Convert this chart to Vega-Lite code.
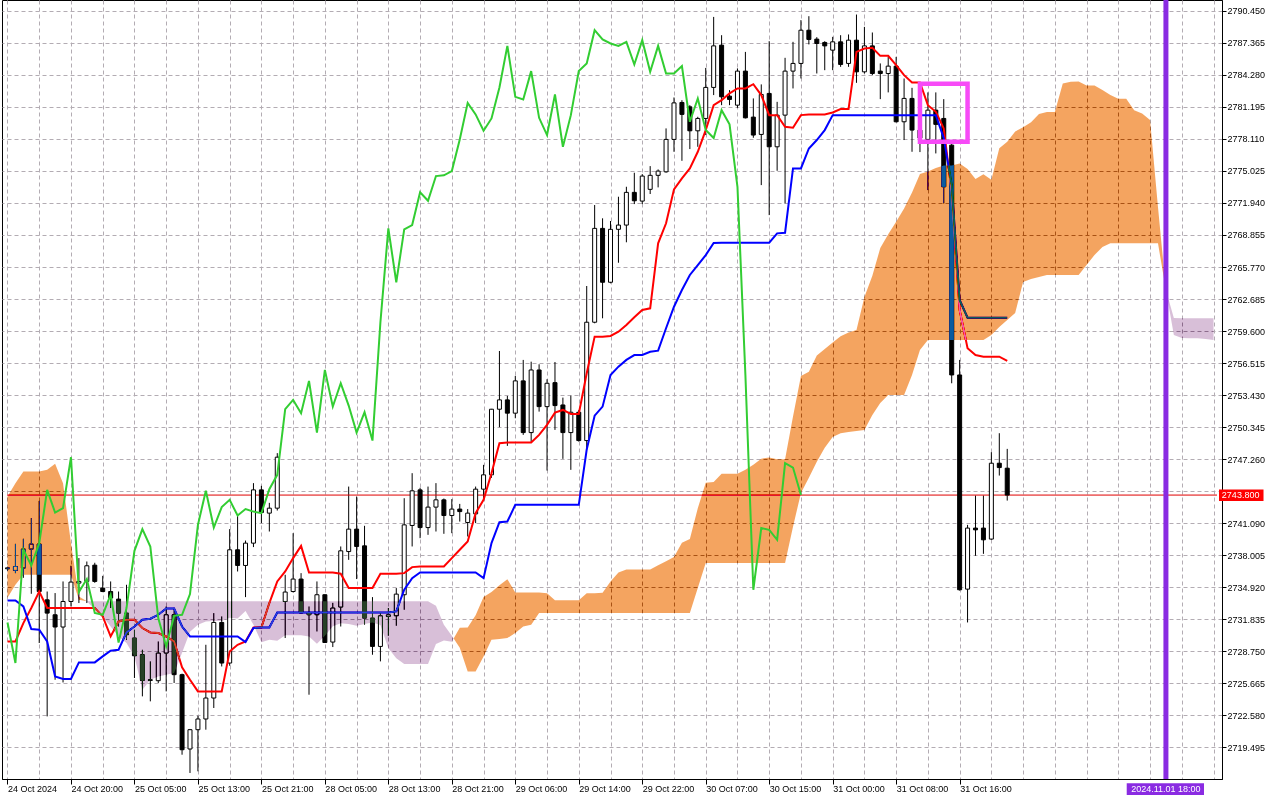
{
  "$schema": "https://vega.github.io/schema/vega-lite/v6.json",
  "width": 1220,
  "height": 779,
  "autosize": {"type": "none"},
  "padding": {"left": 2, "top": 0, "right": 58, "bottom": 21},
  "background": "white",
  "config": {
    "view": {"stroke": "black", "strokeWidth": 1},
    "axis": {"labelFont": "Liberation Sans", "labelFontSize": 9, "labelColor": "black", "domainColor": "black", "tickColor": "black", "gridColor": "#b3acb3", "gridDash": [4, 3], "gridWidth": 1, "gridOpacity": 1, "labelOverlap": false, "labelFlush": false, "labelBound": false, "title": null}
  },
  "datasets": {
    "candles": [
      {"i":0,"o":2736.70,"h":2736.89,"l":2736.51,"c":2736.79},
      {"i":1,"o":2736.54,"h":2739.10,"l":2736.28,"c":2736.92},
      {"i":2,"o":2736.77,"h":2739.59,"l":2735.83,"c":2738.60},
      {"i":3,"o":2738.60,"h":2741.58,"l":2734.29,"c":2739.08},
      {"i":4,"o":2739.08,"h":2743.24,"l":2729.55,"c":2734.51},
      {"i":5,"o":2733.71,"h":2734.51,"l":2722.48,"c":2732.43},
      {"i":6,"o":2732.27,"h":2734.36,"l":2726.01,"c":2731.09},
      {"i":7,"o":2731.09,"h":2735.48,"l":2725.75,"c":2733.55},
      {"i":8,"o":2733.55,"h":2736.99,"l":2733.07,"c":2735.42},
      {"i":9,"o":2735.32,"h":2737.73,"l":2733.40,"c":2735.48},
      {"i":10,"o":2735.48,"h":2737.40,"l":2733.40,"c":2736.99},
      {"i":11,"o":2737.05,"h":2737.28,"l":2735.35,"c":2735.48},
      {"i":12,"o":2734.84,"h":2736.02,"l":2734.45,"c":2734.51},
      {"i":13,"o":2734.51,"h":2735.48,"l":2732.92,"c":2733.88},
      {"i":14,"o":2733.78,"h":2734.51,"l":2731.14,"c":2732.43},
      {"i":15,"o":2732.43,"h":2735.16,"l":2729.86,"c":2730.35},
      {"i":16,"o":2730.03,"h":2730.83,"l":2726.18,"c":2728.32},
      {"i":17,"o":2728.42,"h":2728.90,"l":2724.41,"c":2725.95},
      {"i":18,"o":2726.01,"h":2727.78,"l":2723.93,"c":2725.95},
      {"i":19,"o":2725.92,"h":2729.70,"l":2725.70,"c":2728.58},
      {"i":20,"o":2728.58,"h":2733.07,"l":2724.89,"c":2732.27},
      {"i":21,"o":2732.27,"h":2732.94,"l":2725.70,"c":2726.50},
      {"i":22,"o":2726.50,"h":2726.60,"l":2718.79,"c":2719.27},
      {"i":23,"o":2719.34,"h":2721.27,"l":2717.03,"c":2721.20},
      {"i":24,"o":2721.20,"h":2722.55,"l":2717.19,"c":2722.23},
      {"i":25,"o":2722.23,"h":2729.38,"l":2721.20,"c":2724.25},
      {"i":26,"o":2724.25,"h":2732.43,"l":2723.29,"c":2731.53},
      {"i":27,"o":2731.53,"h":2732.11,"l":2727.29,"c":2727.62},
      {"i":28,"o":2727.62,"h":2740.52,"l":2727.36,"c":2738.53},
      {"i":29,"o":2738.53,"h":2741.90,"l":2736.44,"c":2737.02},
      {"i":30,"o":2737.02,"h":2739.42,"l":2733.97,"c":2739.17},
      {"i":31,"o":2739.17,"h":2744.95,"l":2738.79,"c":2744.30},
      {"i":32,"o":2744.30,"h":2744.69,"l":2741.10,"c":2742.12},
      {"i":33,"o":2742.06,"h":2743.05,"l":2740.29,"c":2742.54},
      {"i":34,"o":2742.54,"h":2747.84,"l":2742.31,"c":2747.45},
      {"i":35,"o":2733.55,"h":2736.12,"l":2730.03,"c":2734.46},
      {"i":36,"o":2734.51,"h":2740.13,"l":2734.42,"c":2735.71},
      {"i":37,"o":2735.71,"h":2736.28,"l":2732.40,"c":2732.45},
      {"i":38,"o":2732.49,"h":2733.07,"l":2724.57,"c":2732.27},
      {"i":39,"o":2732.27,"h":2735.48,"l":2730.66,"c":2734.20},
      {"i":40,"o":2734.20,"h":2734.22,"l":2729.55,"c":2729.60},
      {"i":41,"o":2729.64,"h":2733.42,"l":2729.16,"c":2732.92},
      {"i":42,"o":2733.01,"h":2738.85,"l":2731.14,"c":2738.43},
      {"i":43,"o":2738.36,"h":2744.62,"l":2737.56,"c":2740.52},
      {"i":44,"o":2740.52,"h":2743.66,"l":2735.71,"c":2738.85},
      {"i":45,"o":2738.91,"h":2740.84,"l":2731.31,"c":2731.95},
      {"i":46,"o":2731.95,"h":2733.97,"l":2728.42,"c":2729.22},
      {"i":47,"o":2729.22,"h":2732.43,"l":2727.78,"c":2732.17},
      {"i":48,"o":2732.11,"h":2732.92,"l":2730.25,"c":2732.27},
      {"i":49,"o":2732.17,"h":2734.84,"l":2731.21,"c":2734.26},
      {"i":50,"o":2734.20,"h":2743.50,"l":2732.75,"c":2740.93},
      {"i":51,"o":2740.87,"h":2745.91,"l":2738.85,"c":2744.21},
      {"i":52,"o":2744.30,"h":2744.50,"l":2739.65,"c":2740.67},
      {"i":53,"o":2740.67,"h":2744.62,"l":2739.97,"c":2742.64},
      {"i":54,"o":2742.64,"h":2744.95,"l":2740.29,"c":2743.34},
      {"i":55,"o":2743.34,"h":2743.47,"l":2740.07,"c":2741.83},
      {"i":56,"o":2741.83,"h":2743.41,"l":2740.13,"c":2742.45},
      {"i":57,"o":2742.45,"h":2742.95,"l":2741.25,"c":2742.21},
      {"i":58,"o":2741.16,"h":2742.45,"l":2739.81,"c":2742.06},
      {"i":59,"o":2741.99,"h":2744.62,"l":2741.10,"c":2744.37},
      {"i":60,"o":2744.37,"h":2746.71,"l":2743.34,"c":2745.75},
      {"i":61,"o":2745.75,"h":2752.10,"l":2745.46,"c":2752.07},
      {"i":62,"o":2752.07,"h":2757.68,"l":2750.34,"c":2752.97},
      {"i":63,"o":2752.97,"h":2753.35,"l":2748.54,"c":2751.69},
      {"i":64,"o":2751.69,"h":2755.28,"l":2751.20,"c":2754.80},
      {"i":65,"o":2754.80,"h":2756.82,"l":2749.60,"c":2749.82},
      {"i":66,"o":2749.82,"h":2756.65,"l":2748.89,"c":2755.85},
      {"i":67,"o":2755.85,"h":2756.40,"l":2751.84,"c":2752.32},
      {"i":68,"o":2752.32,"h":2754.96,"l":2746.16,"c":2754.57},
      {"i":69,"o":2754.63,"h":2756.62,"l":2750.08,"c":2752.42},
      {"i":70,"o":2752.48,"h":2753.19,"l":2747.29,"c":2749.82},
      {"i":71,"o":2749.82,"h":2753.38,"l":2746.23,"c":2751.78},
      {"i":72,"o":2751.78,"h":2752.00,"l":2748.95,"c":2749.05},
      {"i":73,"o":2749.05,"h":2763.94,"l":2748.15,"c":2760.45},
      {"i":74,"o":2760.45,"h":2771.74,"l":2760.35,"c":2769.49},
      {"i":75,"o":2769.49,"h":2770.46,"l":2760.83,"c":2764.30},
      {"i":76,"o":2764.30,"h":2770.20,"l":2764.20,"c":2769.40},
      {"i":77,"o":2769.40,"h":2772.54,"l":2766.18,"c":2769.81},
      {"i":78,"o":2769.81,"h":2773.50,"l":2768.15,"c":2772.96},
      {"i":79,"o":2772.96,"h":2774.85,"l":2771.83,"c":2772.15},
      {"i":80,"o":2772.12,"h":2774.72,"l":2771.83,"c":2774.53},
      {"i":81,"o":2773.25,"h":2775.49,"l":2772.80,"c":2774.60},
      {"i":82,"o":2774.60,"h":2775.17,"l":2773.44,"c":2775.01},
      {"i":83,"o":2774.94,"h":2779.12,"l":2774.85,"c":2778.06},
      {"i":84,"o":2778.06,"h":2782.10,"l":2776.87,"c":2781.58},
      {"i":85,"o":2781.62,"h":2781.84,"l":2776.00,"c":2780.47},
      {"i":86,"o":2781.20,"h":2781.36,"l":2777.13,"c":2778.89},
      {"i":87,"o":2778.89,"h":2780.24,"l":2777.35,"c":2780.08},
      {"i":88,"o":2780.08,"h":2784.95,"l":2778.48,"c":2783.07},
      {"i":89,"o":2783.07,"h":2789.86,"l":2782.33,"c":2787.07},
      {"i":90,"o":2787.14,"h":2788.10,"l":2781.36,"c":2782.16},
      {"i":91,"o":2782.23,"h":2782.81,"l":2781.36,"c":2781.91},
      {"i":92,"o":2781.36,"h":2784.90,"l":2781.10,"c":2784.64},
      {"i":93,"o":2784.64,"h":2786.49,"l":2780.08,"c":2780.14},
      {"i":94,"o":2780.21,"h":2782.01,"l":2778.22,"c":2778.48},
      {"i":95,"o":2778.54,"h":2783.36,"l":2773.66,"c":2782.39},
      {"i":96,"o":2782.49,"h":2787.52,"l":2770.77,"c":2777.35},
      {"i":97,"o":2777.35,"h":2781.68,"l":2775.04,"c":2780.40},
      {"i":98,"o":2780.40,"h":2785.92,"l":2771.90,"c":2784.64},
      {"i":99,"o":2784.64,"h":2787.46,"l":2782.97,"c":2785.38},
      {"i":100,"o":2785.38,"h":2789.55,"l":2783.93,"c":2788.58},
      {"i":101,"o":2788.58,"h":2789.93,"l":2787.21,"c":2787.69},
      {"i":102,"o":2787.72,"h":2787.91,"l":2784.41,"c":2787.30},
      {"i":103,"o":2787.40,"h":2787.52,"l":2784.73,"c":2787.07},
      {"i":104,"o":2786.66,"h":2787.94,"l":2784.73,"c":2787.46},
      {"i":105,"o":2787.46,"h":2788.10,"l":2785.05,"c":2785.28},
      {"i":106,"o":2785.38,"h":2788.17,"l":2785.05,"c":2787.62},
      {"i":107,"o":2787.62,"h":2790.09,"l":2783.51,"c":2784.57},
      {"i":108,"o":2784.57,"h":2788.90,"l":2784.41,"c":2787.07},
      {"i":109,"o":2787.07,"h":2788.36,"l":2784.25,"c":2784.41},
      {"i":110,"o":2784.64,"h":2785.38,"l":2781.94,"c":2784.41},
      {"i":111,"o":2784.41,"h":2786.01,"l":2782.59,"c":2785.12},
      {"i":112,"o":2785.12,"h":2786.01,"l":2779.70,"c":2779.76},
      {"i":113,"o":2779.76,"h":2783.93,"l":2778.00,"c":2782.01},
      {"i":114,"o":2782.01,"h":2783.03,"l":2776.87,"c":2778.96},
      {"i":115,"o":2778.96,"h":2780.40,"l":2776.84,"c":2778.19},
      {"i":116,"o":2778.06,"h":2782.59,"l":2773.18,"c":2780.88},
      {"i":117,"o":2780.88,"h":2782.59,"l":2776.71,"c":2779.51},
      {"i":118,"o":2780.08,"h":2781.94,"l":2771.90,"c":2773.50},
      {"i":119,"o":2777.51,"h":2777.83,"l":2754.57,"c":2755.37},
      {"i":120,"o":2755.37,"h":2756.82,"l":2734.60,"c":2734.68},
      {"i":121,"o":2734.74,"h":2740.93,"l":2731.53,"c":2740.62},
      {"i":122,"o":2740.62,"h":2743.76,"l":2737.95,"c":2740.45},
      {"i":123,"o":2740.62,"h":2743.76,"l":2738.14,"c":2739.49},
      {"i":124,"o":2739.56,"h":2747.93,"l":2739.49,"c":2746.87},
      {"i":125,"o":2746.87,"h":2749.76,"l":2745.68,"c":2746.45},
      {"i":126,"o":2746.39,"h":2748.25,"l":2743.27,"c":2743.80}
    ],
    "lines": [
      {"i":0,"t":2729.70,"k":2733.65},{"i":1,"t":2729.70,"k":2733.65},{"i":2,"t":2731.47,"k":2733.07},{"i":3,"t":2732.92,"k":2730.89},
      {"i":4,"t":2734.51,"k":2730.83},{"i":5,"t":2732.92,"k":2729.70},{"i":6,"t":2732.92,"k":2726.33},{"i":7,"t":2732.92,"k":2726.08},
      {"i":8,"t":2732.92,"k":2726.08},{"i":9,"t":2732.92,"k":2727.68},{"i":10,"t":2732.92,"k":2727.68},{"i":11,"t":2732.92,"k":2727.68},
      {"i":12,"t":2732.11,"k":2728.26},{"i":13,"t":2730.18,"k":2728.80},{"i":14,"t":2731.63,"k":2728.90},{"i":15,"t":2731.79,"k":2730.57},
      {"i":16,"t":2731.79,"k":2731.14},{"i":17,"t":2730.99,"k":2731.79},{"i":18,"t":2730.57,"k":2731.89},{"i":19,"t":2730.51,"k":2732.27},
      {"i":20,"t":2730.18,"k":2732.88},{"i":21,"t":2729.70,"k":2732.88},{"i":22,"t":2727.21,"k":2731.14},{"i":23,"t":2726.01,"k":2730.18},
      {"i":24,"t":2724.89,"k":2730.18},{"i":25,"t":2724.89,"k":2730.18},{"i":26,"t":2724.89,"k":2730.18},{"i":27,"t":2724.89,"k":2730.18},
      {"i":28,"t":2728.74,"k":2730.18},{"i":29,"t":2729.38,"k":2730.18},{"i":30,"t":2729.70,"k":2729.64},{"i":31,"t":2731.05,"k":2730.99},
      {"i":32,"t":2731.05,"k":2731.05},{"i":33,"t":2733.40,"k":2731.05},{"i":34,"t":2735.48,"k":2732.49},{"i":35,"t":2736.44,"k":2732.49},
      {"i":36,"t":2737.73,"k":2732.49},{"i":37,"t":2738.91,"k":2732.49},{"i":38,"t":2736.34,"k":2732.49},{"i":39,"t":2736.34,"k":2732.49},
      {"i":40,"t":2736.34,"k":2732.49},{"i":41,"t":2736.34,"k":2732.49},{"i":42,"t":2736.22,"k":2732.49},{"i":43,"t":2734.84,"k":2732.49},
      {"i":44,"t":2734.84,"k":2732.49},{"i":45,"t":2734.84,"k":2732.49},{"i":46,"t":2734.84,"k":2732.49},{"i":47,"t":2736.22,"k":2732.49},
      {"i":48,"t":2736.22,"k":2732.49},{"i":49,"t":2736.22,"k":2732.59},{"i":50,"t":2736.28,"k":2734.68},{"i":51,"t":2736.86,"k":2735.80},
      {"i":52,"t":2736.92,"k":2736.34},{"i":53,"t":2736.92,"k":2736.34},{"i":54,"t":2736.92,"k":2736.34},{"i":55,"t":2736.92,"k":2736.34},
      {"i":56,"t":2737.73,"k":2736.34},{"i":57,"t":2738.53,"k":2736.34},{"i":58,"t":2739.33,"k":2736.34},{"i":59,"t":2742.06,"k":2736.34},
      {"i":60,"t":2743.34,"k":2735.80},{"i":61,"t":2745.91,"k":2739.17},{"i":62,"t":2748.80,"k":2741.19},{"i":63,"t":2748.86,"k":2741.25},
      {"i":64,"t":2748.86,"k":2742.86},{"i":65,"t":2748.86,"k":2742.86},{"i":66,"t":2748.86,"k":2742.86},{"i":67,"t":2749.60,"k":2742.86},
      {"i":68,"t":2750.56,"k":2742.86},{"i":69,"t":2751.74,"k":2742.86},{"i":70,"t":2752.00,"k":2742.86},{"i":71,"t":2751.62,"k":2742.86},
      {"i":72,"t":2751.62,"k":2742.86},{"i":73,"t":2755.54,"k":2748.19},{"i":74,"t":2759.06,"k":2751.45},{"i":75,"t":2759.06,"k":2752.32},
      {"i":76,"t":2759.13,"k":2755.37},{"i":77,"t":2759.54,"k":2756.17},{"i":78,"t":2760.18,"k":2756.82},{"i":79,"t":2760.93,"k":2757.29},
      {"i":80,"t":2761.63,"k":2757.29},{"i":81,"t":2761.79,"k":2757.61},{"i":82,"t":2768.05,"k":2757.71},{"i":83,"t":2769.98,"k":2759.87},
      {"i":84,"t":2773.25,"k":2761.94},{"i":85,"t":2774.31,"k":2763.55},{"i":86,"t":2775.27,"k":2765.00},{"i":87,"t":2776.87,"k":2765.96},
      {"i":88,"t":2778.96,"k":2766.92},{"i":89,"t":2781.36,"k":2768.08},{"i":90,"t":2781.84,"k":2768.11},{"i":91,"t":2782.49,"k":2768.11},
      {"i":92,"t":2782.97,"k":2768.11},{"i":93,"t":2782.97,"k":2768.11},{"i":94,"t":2783.38,"k":2768.11},{"i":95,"t":2782.33,"k":2768.11},
      {"i":96,"t":2780.40,"k":2768.11},{"i":97,"t":2780.40,"k":2769.01},{"i":98,"t":2779.27,"k":2769.07},{"i":99,"t":2779.18,"k":2775.27},
      {"i":100,"t":2780.40,"k":2775.27},{"i":101,"t":2780.47,"k":2777.19},{"i":102,"t":2780.47,"k":2778.00},{"i":103,"t":2780.47,"k":2778.96},
      {"i":104,"t":2780.66,"k":2780.40},{"i":105,"t":2780.98,"k":2780.40},{"i":106,"t":2780.98,"k":2780.40},{"i":107,"t":2786.49,"k":2780.40},
      {"i":108,"t":2786.82,"k":2780.40},{"i":109,"t":2786.88,"k":2780.40},{"i":110,"t":2786.11,"k":2780.40},{"i":111,"t":2786.11,"k":2780.40},
      {"i":112,"t":2785.21,"k":2780.40},{"i":113,"t":2784.25,"k":2780.40},{"i":114,"t":2783.55,"k":2780.40},{"i":115,"t":2783.55,"k":2780.40},
      {"i":116,"t":2781.36,"k":2780.40},{"i":117,"t":2780.72,"k":2780.40},{"i":118,"t":2779.12,"k":2778.19},{"i":119,"t":2773.02,"k":2773.66},
      {"i":120,"t":2761.63,"k":2762.59},{"i":121,"t":2757.94,"k":2760.89},{"i":122,"t":2757.29,"k":2760.89},{"i":123,"t":2757.13,"k":2760.89},
      {"i":124,"t":2757.13,"k":2760.89},{"i":125,"t":2757.13,"k":2760.89},{"i":126,"t":2756.72,"k":2760.89}
    ],
    "chikou": [
      {"i":0,"v":2731.53},{"i":1,"v":2727.62},{"i":2,"v":2738.53},{"i":3,"v":2737.02},{"i":4,"v":2739.17},{"i":5,"v":2744.30},
      {"i":6,"v":2742.12},{"i":7,"v":2742.54},{"i":8,"v":2747.45},{"i":9,"v":2734.46},{"i":10,"v":2735.71},{"i":11,"v":2732.45},
      {"i":12,"v":2732.27},{"i":13,"v":2734.20},{"i":14,"v":2729.60},{"i":15,"v":2732.92},{"i":16,"v":2738.43},{"i":17,"v":2740.52},
      {"i":18,"v":2738.85},{"i":19,"v":2731.95},{"i":20,"v":2729.22},{"i":21,"v":2732.17},{"i":22,"v":2732.27},{"i":23,"v":2734.26},
      {"i":24,"v":2740.93},{"i":25,"v":2744.21},{"i":26,"v":2740.67},{"i":27,"v":2742.64},{"i":28,"v":2743.34},{"i":29,"v":2741.83},
      {"i":30,"v":2742.45},{"i":31,"v":2742.21},{"i":32,"v":2742.06},{"i":33,"v":2744.37},{"i":34,"v":2745.75},{"i":35,"v":2752.07},
      {"i":36,"v":2752.97},{"i":37,"v":2751.69},{"i":38,"v":2754.80},{"i":39,"v":2749.82},{"i":40,"v":2755.85},{"i":41,"v":2752.32},
      {"i":42,"v":2754.57},{"i":43,"v":2752.42},{"i":44,"v":2749.82},{"i":45,"v":2751.78},{"i":46,"v":2749.05},{"i":47,"v":2760.45},
      {"i":48,"v":2769.49},{"i":49,"v":2764.30},{"i":50,"v":2769.40},{"i":51,"v":2769.81},{"i":52,"v":2772.96},{"i":53,"v":2772.15},
      {"i":54,"v":2774.53},{"i":55,"v":2774.60},{"i":56,"v":2775.01},{"i":57,"v":2778.06},{"i":58,"v":2781.58},{"i":59,"v":2780.47},
      {"i":60,"v":2778.89},{"i":61,"v":2780.08},{"i":62,"v":2783.07},{"i":63,"v":2787.07},{"i":64,"v":2782.16},{"i":65,"v":2781.91},
      {"i":66,"v":2784.64},{"i":67,"v":2780.14},{"i":68,"v":2778.48},{"i":69,"v":2782.39},{"i":70,"v":2777.35},{"i":71,"v":2780.40},
      {"i":72,"v":2784.64},{"i":73,"v":2785.38},{"i":74,"v":2788.58},{"i":75,"v":2787.69},{"i":76,"v":2787.30},{"i":77,"v":2787.07},
      {"i":78,"v":2787.46},{"i":79,"v":2785.28},{"i":80,"v":2787.62},{"i":81,"v":2784.57},{"i":82,"v":2787.07},{"i":83,"v":2784.41},
      {"i":84,"v":2784.41},{"i":85,"v":2785.12},{"i":86,"v":2779.76},{"i":87,"v":2782.01},{"i":88,"v":2778.96},{"i":89,"v":2778.19},
      {"i":90,"v":2780.88},{"i":91,"v":2779.51},{"i":92,"v":2773.50},{"i":93,"v":2755.37},{"i":94,"v":2734.68},{"i":95,"v":2740.62},
      {"i":96,"v":2740.45},{"i":97,"v":2739.49},{"i":98,"v":2746.87},{"i":99,"v":2746.45},{"i":100,"v":2743.80}
    ],
    "cloud": [
      {"i":0,"seg":"o1","kind":"up","a":2743.66,"b":2733.91},{"i":1,"seg":"o1","kind":"up","a":2744.95,"b":2735.16},
      {"i":2,"seg":"o1","kind":"up","a":2746.07,"b":2736.12},{"i":3,"seg":"o1","kind":"up","a":2746.07,"b":2736.12},
      {"i":4,"seg":"o1","kind":"up","a":2746.07,"b":2736.12},{"i":5,"seg":"o1","kind":"up","a":2746.23,"b":2736.12},
      {"i":6,"seg":"o1","kind":"up","a":2746.81,"b":2736.12},{"i":7,"seg":"o1","kind":"up","a":2744.95,"b":2736.12},
      {"i":8,"seg":"o1","kind":"up","a":2739.17,"b":2736.12},{"i":9,"seg":"o1","kind":"up","a":2734.03,"b":2733.71},
      {"i":10,"seg":"o1","kind":"up","a":2733.57,"b":2733.57},
      {"i":10,"seg":"l1","kind":"down","a":2733.57,"b":2733.57},{"i":11,"seg":"l1","kind":"down","a":2732.75,"b":2733.57},
      {"i":12,"seg":"l1","kind":"down","a":2732.11,"b":2733.57},{"i":13,"seg":"l1","kind":"down","a":2731.14,"b":2733.57},
      {"i":14,"seg":"l1","kind":"down","a":2730.18,"b":2733.57},{"i":15,"seg":"l1","kind":"down","a":2729.55,"b":2733.57},
      {"i":16,"seg":"l1","kind":"down","a":2728.26,"b":2733.57},{"i":17,"seg":"l1","kind":"down","a":2725.05,"b":2733.57},
      {"i":18,"seg":"l1","kind":"down","a":2726.01,"b":2733.57},{"i":19,"seg":"l1","kind":"down","a":2726.33,"b":2733.57},
      {"i":20,"seg":"l1","kind":"down","a":2726.50,"b":2733.57},{"i":21,"seg":"l1","kind":"down","a":2726.66,"b":2733.57},
      {"i":22,"seg":"l1","kind":"down","a":2728.61,"b":2733.57},{"i":23,"seg":"l1","kind":"down","a":2730.63,"b":2733.57},
      {"i":24,"seg":"l1","kind":"down","a":2731.31,"b":2733.57},{"i":25,"seg":"l1","kind":"down","a":2731.63,"b":2733.57},
      {"i":26,"seg":"l1","kind":"down","a":2731.68,"b":2733.57},{"i":27,"seg":"l1","kind":"down","a":2731.68,"b":2733.57},
      {"i":28,"seg":"l1","kind":"down","a":2731.98,"b":2733.57},{"i":29,"seg":"l1","kind":"down","a":2731.90,"b":2733.57},
      {"i":30,"seg":"l1","kind":"down","a":2732.63,"b":2733.57},{"i":31,"seg":"l1","kind":"down","a":2731.31,"b":2733.57},
      {"i":32,"seg":"l1","kind":"down","a":2729.62,"b":2733.57},{"i":33,"seg":"l1","kind":"down","a":2729.86,"b":2733.57},
      {"i":34,"seg":"l1","kind":"down","a":2729.77,"b":2733.57},{"i":35,"seg":"l1","kind":"down","a":2730.30,"b":2733.57},
      {"i":36,"seg":"l1","kind":"down","a":2730.30,"b":2733.57},{"i":37,"seg":"l1","kind":"down","a":2730.30,"b":2733.57},
      {"i":38,"seg":"l1","kind":"down","a":2730.18,"b":2733.57},{"i":39,"seg":"l1","kind":"down","a":2729.49,"b":2733.57},
      {"i":40,"seg":"l1","kind":"down","a":2730.26,"b":2733.57},{"i":41,"seg":"l1","kind":"down","a":2731.17,"b":2733.57},
      {"i":42,"seg":"l1","kind":"down","a":2731.46,"b":2733.57},{"i":43,"seg":"l1","kind":"down","a":2731.38,"b":2733.57},
      {"i":44,"seg":"l1","kind":"down","a":2731.22,"b":2733.57},{"i":45,"seg":"l1","kind":"down","a":2731.38,"b":2733.57},
      {"i":46,"seg":"l1","kind":"down","a":2731.53,"b":2733.57},{"i":47,"seg":"l1","kind":"down","a":2731.29,"b":2733.57},
      {"i":48,"seg":"l1","kind":"down","a":2729.05,"b":2733.57},{"i":49,"seg":"l1","kind":"down","a":2728.09,"b":2733.57},
      {"i":50,"seg":"l1","kind":"down","a":2727.53,"b":2733.57},{"i":51,"seg":"l1","kind":"down","a":2727.53,"b":2733.57},
      {"i":52,"seg":"l1","kind":"down","a":2727.53,"b":2733.57},{"i":53,"seg":"l1","kind":"down","a":2727.53,"b":2733.57},
      {"i":54,"seg":"l1","kind":"down","a":2729.46,"b":2733.14},{"i":55,"seg":"l1","kind":"down","a":2729.78,"b":2731.31},
      {"i":56,"seg":"l1","kind":"down","a":2729.67,"b":2730.25},{"i":56.23,"seg":"l1","kind":"down","a":2729.98,"b":2729.98},
      {"i":56.23,"seg":"o2","kind":"up","a":2729.98,"b":2729.98},{"i":57,"seg":"o2","kind":"up","a":2731.02,"b":2729.09},
      {"i":58,"seg":"o2","kind":"up","a":2731.05,"b":2726.81},{"i":59,"seg":"o2","kind":"up","a":2732.22,"b":2726.81},
      {"i":60,"seg":"o2","kind":"up","a":2733.98,"b":2728.26},{"i":61,"seg":"o2","kind":"up","a":2734.47,"b":2729.86},
      {"i":62,"seg":"o2","kind":"up","a":2735.11,"b":2729.93},{"i":63,"seg":"o2","kind":"up","a":2735.70,"b":2730.03},
      {"i":64,"seg":"o2","kind":"up","a":2734.42,"b":2730.51},{"i":65,"seg":"o2","kind":"up","a":2734.42,"b":2731.14},
      {"i":66,"seg":"o2","kind":"up","a":2734.42,"b":2731.31},{"i":67,"seg":"o2","kind":"up","a":2734.42,"b":2732.43},
      {"i":68,"seg":"o2","kind":"up","a":2734.35,"b":2732.43},{"i":69,"seg":"o2","kind":"up","a":2733.67,"b":2732.43},
      {"i":70,"seg":"o2","kind":"up","a":2733.67,"b":2732.43},{"i":71,"seg":"o2","kind":"up","a":2733.67,"b":2732.43},
      {"i":72,"seg":"o2","kind":"up","a":2733.67,"b":2732.43},{"i":73,"seg":"o2","kind":"up","a":2734.35,"b":2732.43},
      {"i":74,"seg":"o2","kind":"up","a":2734.35,"b":2732.43},{"i":75,"seg":"o2","kind":"up","a":2734.40,"b":2732.43},
      {"i":76,"seg":"o2","kind":"up","a":2735.48,"b":2732.43},{"i":77,"seg":"o2","kind":"up","a":2736.33,"b":2732.43},
      {"i":78,"seg":"o2","kind":"up","a":2736.63,"b":2732.43},{"i":79,"seg":"o2","kind":"up","a":2736.63,"b":2732.43},
      {"i":80,"seg":"o2","kind":"up","a":2736.63,"b":2732.43},{"i":81,"seg":"o2","kind":"up","a":2736.63,"b":2732.43},
      {"i":82,"seg":"o2","kind":"up","a":2737.04,"b":2732.43},{"i":83,"seg":"o2","kind":"up","a":2737.43,"b":2732.43},
      {"i":84,"seg":"o2","kind":"up","a":2737.83,"b":2732.43},{"i":85,"seg":"o2","kind":"up","a":2739.20,"b":2732.43},
      {"i":86,"seg":"o2","kind":"up","a":2739.57,"b":2732.43},{"i":87,"seg":"o2","kind":"up","a":2742.54,"b":2734.84},
      {"i":88,"seg":"o2","kind":"up","a":2744.99,"b":2737.25},{"i":89,"seg":"o2","kind":"up","a":2745.05,"b":2737.25},
      {"i":90,"seg":"o2","kind":"up","a":2745.86,"b":2737.25},{"i":91,"seg":"o2","kind":"up","a":2745.86,"b":2737.25},
      {"i":92,"seg":"o2","kind":"up","a":2745.86,"b":2737.25},{"i":93,"seg":"o2","kind":"up","a":2746.23,"b":2737.25},
      {"i":94,"seg":"o2","kind":"up","a":2746.71,"b":2737.25},{"i":95,"seg":"o2","kind":"up","a":2747.30,"b":2737.25},
      {"i":96,"seg":"o2","kind":"up","a":2747.43,"b":2737.25},{"i":97,"seg":"o2","kind":"up","a":2747.24,"b":2737.25},
      {"i":98,"seg":"o2","kind":"up","a":2747.24,"b":2737.25},{"i":99,"seg":"o2","kind":"up","a":2751.36,"b":2740.74},
      {"i":100,"seg":"o2","kind":"up","a":2755.26,"b":2744.01},{"i":101,"seg":"o2","kind":"up","a":2755.69,"b":2745.46},
      {"i":102,"seg":"o2","kind":"up","a":2757.25,"b":2747.00},{"i":103,"seg":"o2","kind":"up","a":2757.86,"b":2748.35},
      {"i":104,"seg":"o2","kind":"up","a":2758.50,"b":2749.40},{"i":105,"seg":"o2","kind":"up","a":2759.11,"b":2749.76},
      {"i":106,"seg":"o2","kind":"up","a":2759.46,"b":2749.88},{"i":107,"seg":"o2","kind":"up","a":2759.70,"b":2749.98},
      {"i":108,"seg":"o2","kind":"up","a":2762.88,"b":2750.08},{"i":109,"seg":"o2","kind":"up","a":2764.92,"b":2751.52},
      {"i":110,"seg":"o2","kind":"up","a":2767.60,"b":2752.68},{"i":111,"seg":"o2","kind":"up","a":2768.93,"b":2753.45},
      {"i":112,"seg":"o2","kind":"up","a":2770.14,"b":2753.45},{"i":113,"seg":"o2","kind":"up","a":2771.41,"b":2753.45},
      {"i":114,"seg":"o2","kind":"up","a":2772.94,"b":2755.37},{"i":115,"seg":"o2","kind":"up","a":2774.72,"b":2757.78},
      {"i":116,"seg":"o2","kind":"up","a":2774.97,"b":2758.74},{"i":117,"seg":"o2","kind":"up","a":2775.30,"b":2758.74},
      {"i":118,"seg":"o2","kind":"up","a":2775.54,"b":2758.74},{"i":119,"seg":"o2","kind":"up","a":2775.54,"b":2758.74},
      {"i":120,"seg":"o2","kind":"up","a":2775.74,"b":2758.74},{"i":121,"seg":"o2","kind":"up","a":2775.21,"b":2758.74},
      {"i":122,"seg":"o2","kind":"up","a":2774.25,"b":2758.74},{"i":123,"seg":"o2","kind":"up","a":2774.70,"b":2758.74},
      {"i":124,"seg":"o2","kind":"up","a":2774.17,"b":2759.22},{"i":125,"seg":"o2","kind":"up","a":2777.22,"b":2759.99},
      {"i":126,"seg":"o2","kind":"up","a":2777.83,"b":2760.67},{"i":127,"seg":"o2","kind":"up","a":2778.83,"b":2761.34},
      {"i":128,"seg":"o2","kind":"up","a":2779.23,"b":2764.32},{"i":129,"seg":"o2","kind":"up","a":2779.71,"b":2764.61},
      {"i":130,"seg":"o2","kind":"up","a":2780.52,"b":2764.81},{"i":131,"seg":"o2","kind":"up","a":2780.69,"b":2765.00},
      {"i":132,"seg":"o2","kind":"up","a":2780.69,"b":2765.00},{"i":133,"seg":"o2","kind":"up","a":2783.44,"b":2765.00},
      {"i":134,"seg":"o2","kind":"up","a":2783.61,"b":2765.00},{"i":135,"seg":"o2","kind":"up","a":2783.63,"b":2765.00},
      {"i":136,"seg":"o2","kind":"up","a":2783.25,"b":2765.96},{"i":137,"seg":"o2","kind":"up","a":2783.25,"b":2766.92},
      {"i":138,"seg":"o2","kind":"up","a":2782.81,"b":2767.69},{"i":139,"seg":"o2","kind":"up","a":2782.33,"b":2768.05},
      {"i":140,"seg":"o2","kind":"up","a":2781.97,"b":2768.05},{"i":141,"seg":"o2","kind":"up","a":2781.97,"b":2768.05},
      {"i":142,"seg":"o2","kind":"up","a":2780.88,"b":2768.05},{"i":143,"seg":"o2","kind":"up","a":2780.55,"b":2768.05},
      {"i":144,"seg":"o2","kind":"up","a":2779.92,"b":2768.05},{"i":145,"seg":"o2","kind":"up","a":2771.54,"b":2768.05},
      {"i":146,"seg":"o2","kind":"up","a":2763.55,"b":2763.55},
      {"i":146,"seg":"l2","kind":"down","a":2763.55,"b":2763.55},{"i":147,"seg":"l2","kind":"down","a":2759.22,"b":2760.86},
      {"i":148,"seg":"l2","kind":"down","a":2758.93,"b":2760.83},{"i":149,"seg":"l2","kind":"down","a":2758.91,"b":2760.83},
      {"i":150,"seg":"l2","kind":"down","a":2758.91,"b":2760.83},{"i":151,"seg":"l2","kind":"down","a":2758.83,"b":2760.83},
      {"i":152,"seg":"l2","kind":"down","a":2758.74,"b":2760.83}
    ]
  },
  "layer": [
    {
      "data": {"name": "candles"},
      "mark": {"type": "rule", "color": "black", "strokeWidth": 1},
      "encoding": {
        "x": {"field": "i", "type": "quantitative", "scale": {"domain": [-0.0625, 152.4375], "nice": false, "zero": false},
          "axis": {"orient": "bottom", "values": [0,4,8,12,16,20,24,28,32,36,40,44,48,52,56,60,64,68,72,76,80,84,88,92,96,100,104,108,112,116,120,124,128,132,136,140,144,148,152], "tickCount": 500, "grid": true, "tickSize": 5, "labelPadding": 0, "labelAlign": "left",
            "tickOpacity": {"condition": {"test": "datum.value % 8 == 0 && datum.value <= 120", "value": 1}, "value": 0},
            "labelExpr": "datum.value % 8 == 0 && datum.value <= 120 ? ['24 Oct 2024','24 Oct 20:00','25 Oct 05:00','25 Oct 13:00','25 Oct 21:00','28 Oct 05:00','28 Oct 13:00','28 Oct 21:00','29 Oct 06:00','29 Oct 14:00','29 Oct 22:00','30 Oct 07:00','30 Oct 15:00','31 Oct 00:00','31 Oct 08:00','31 Oct 16:00'][datum.value / 8] : ''"}},
        "y": {"field": "l", "type": "quantitative", "scale": {"domain": [2716.45, 2791.49], "nice": false, "zero": false},
          "axis": {"orient": "right", "values": [2790.45,2787.365,2784.28,2781.195,2778.11,2775.025,2771.94,2768.855,2765.77,2762.685,2759.6,2756.515,2753.43,2750.345,2747.26,2744.175,2741.09,2738.005,2734.92,2731.835,2728.75,2725.665,2722.58,2719.495], "tickCount": 500, "grid": true, "tickSize": 4, "labelPadding": 1, "labelAlign": "left", "labelBaseline": "middle",
            "labelExpr": "abs(datum.value - 2744.175) < 0.001 ? '' : format(datum.value, '.3f')"}},
        "y2": {"field": "h"}
      }
    },
    {
      "data": {"name": "candles"},
      "transform": [{"filter": "datum.i == 126"}],
      "mark": {"type": "rule", "color": "#e00000", "strokeWidth": 1},
      "encoding": {
        "x": {"datum": -0.0625, "type": "quantitative", "scale": {"domain": [-0.0625, 152.4375], "nice": false, "zero": false},
          "axis": {"orient": "bottom", "values": [0,4,8,12,16,20,24,28,32,36,40,44,48,52,56,60,64,68,72,76,80,84,88,92,96,100,104,108,112,116,120,124,128,132,136,140,144,148,152], "tickCount": 500, "grid": true, "tickSize": 5, "labelPadding": 0, "labelAlign": "left",
            "tickOpacity": {"condition": {"test": "datum.value % 8 == 0 && datum.value <= 120", "value": 1}, "value": 0},
            "labelExpr": "datum.value % 8 == 0 && datum.value <= 120 ? ['24 Oct 2024','24 Oct 20:00','25 Oct 05:00','25 Oct 13:00','25 Oct 21:00','28 Oct 05:00','28 Oct 13:00','28 Oct 21:00','29 Oct 06:00','29 Oct 14:00','29 Oct 22:00','30 Oct 07:00','30 Oct 15:00','31 Oct 00:00','31 Oct 08:00','31 Oct 16:00'][datum.value / 8] : ''"}},
        "x2": {"datum": 152.4375},
        "y": {"field": "c", "type": "quantitative", "scale": {"domain": [2716.45, 2791.49], "nice": false, "zero": false},
          "axis": {"orient": "right", "values": [2790.45,2787.365,2784.28,2781.195,2778.11,2775.025,2771.94,2768.855,2765.77,2762.685,2759.6,2756.515,2753.43,2750.345,2747.26,2744.175,2741.09,2738.005,2734.92,2731.835,2728.75,2725.665,2722.58,2719.495], "tickCount": 500, "grid": true, "tickSize": 4, "labelPadding": 1, "labelAlign": "left", "labelBaseline": "middle",
            "labelExpr": "abs(datum.value - 2744.175) < 0.001 ? '' : format(datum.value, '.3f')"}}
      }
    },
    {
      "data": {"name": "candles"},
      "mark": {"type": "bar", "size": 4, "stroke": "black", "strokeWidth": 1},
      "encoding": {
        "x": {"field": "i", "type": "quantitative"},
        "y": {"field": "o", "type": "quantitative"},
        "y2": {"field": "c"},
        "fill": {"condition": {"test": "datum.c >= datum.o", "value": "white"}, "value": "black"}
      }
    },
    {
      "data": {"name": "lines"},
      "mark": {"type": "line", "color": "#ff0000", "strokeWidth": 2},
      "encoding": {"x": {"field": "i", "type": "quantitative"}, "y": {"field": "t", "type": "quantitative"}}
    },
    {
      "data": {"name": "lines"},
      "mark": {"type": "line", "color": "#0000ff", "strokeWidth": 2},
      "encoding": {"x": {"field": "i", "type": "quantitative"}, "y": {"field": "k", "type": "quantitative"}}
    },
    {
      "data": {"name": "cloud"},
      "mark": {"type": "area", "blend": "difference", "opacity": 1, "interpolate": "linear"},
      "encoding": {
        "x": {"field": "i", "type": "quantitative"},
        "y": {"field": "a", "type": "quantitative"},
        "y2": {"field": "b"},
        "detail": {"field": "seg"},
        "color": {"field": "kind", "type": "nominal", "scale": {"domain": ["up", "down"], "range": ["#0b5b9f", "#274027"]}, "legend": null}
      }
    },
    {
      "data": {"name": "chikou"},
      "mark": {"type": "line", "color": "#32cd32", "strokeWidth": 2},
      "encoding": {"x": {"field": "i", "type": "quantitative"}, "y": {"field": "v", "type": "quantitative"}}
    },
    {
      "data": {"name": "candles"},
      "transform": [{"filter": "datum.i >= 115 && datum.i <= 121"}],
      "mark": {"type": "rect", "fillOpacity": 0, "stroke": "#f74af7", "strokeWidth": 4.5},
      "encoding": {
        "x": {"aggregate": "min", "field": "i", "type": "quantitative"},
        "x2": {"aggregate": "max", "field": "i"},
        "y": {"datum": 2777.83, "type": "quantitative"},
        "y2": {"datum": 2783.43}
      }
    },
    {
      "data": {"name": "cloud"},
      "transform": [{"filter": "datum.i == 146 && datum.seg == 'l2'"}],
      "mark": {"type": "rule", "color": "#8a2be2", "strokeWidth": 5},
      "encoding": {
        "x": {"field": "i", "type": "quantitative"},
        "y": {"datum": 2716.45, "type": "quantitative"},
        "y2": {"datum": 2791.49}
      }
    },
    {
      "data": {"name": "candles"},
      "transform": [{"filter": "datum.i == 126"}],
      "mark": {"type": "rect", "color": "#ff0000"},
      "encoding": {
        "x": {"datum": 152.69, "type": "quantitative"},
        "x2": {"datum": 158.3},
        "y": {"datum": 2743.23, "type": "quantitative"},
        "y2": {"datum": 2744.33}
      }
    },
    {
      "data": {"name": "candles"},
      "transform": [{"filter": "datum.i == 126"}],
      "mark": {"type": "text", "color": "white", "font": "Liberation Sans", "fontSize": 9, "align": "left", "baseline": "middle"},
      "encoding": {
        "x": {"datum": 153.05, "type": "quantitative"},
        "y": {"field": "c", "type": "quantitative"},
        "text": {"field": "c", "type": "quantitative", "format": ".3f"}
      }
    },
    {
      "data": {"name": "cloud"},
      "transform": [{"filter": "datum.i == 146 && datum.seg == 'l2'"}],
      "mark": {"type": "rect", "color": "#8a2be2"},
      "encoding": {
        "x": {"datum": 141.06, "type": "quantitative"},
        "x2": {"datum": 150.8},
        "y": {"datum": 2714.91, "type": "quantitative"},
        "y2": {"datum": 2716.05}
      }
    },
    {
      "data": {"name": "cloud"},
      "transform": [{"filter": "datum.i == 146 && datum.seg == 'l2'"}],
      "mark": {"type": "text", "text": "2024.11.01 18:00", "color": "white", "font": "Liberation Sans", "fontSize": 9, "align": "center", "baseline": "middle"},
      "encoding": {
        "x": {"field": "i", "type": "quantitative"},
        "y": {"datum": 2715.48, "type": "quantitative"}
      }
    }
  ]
}
